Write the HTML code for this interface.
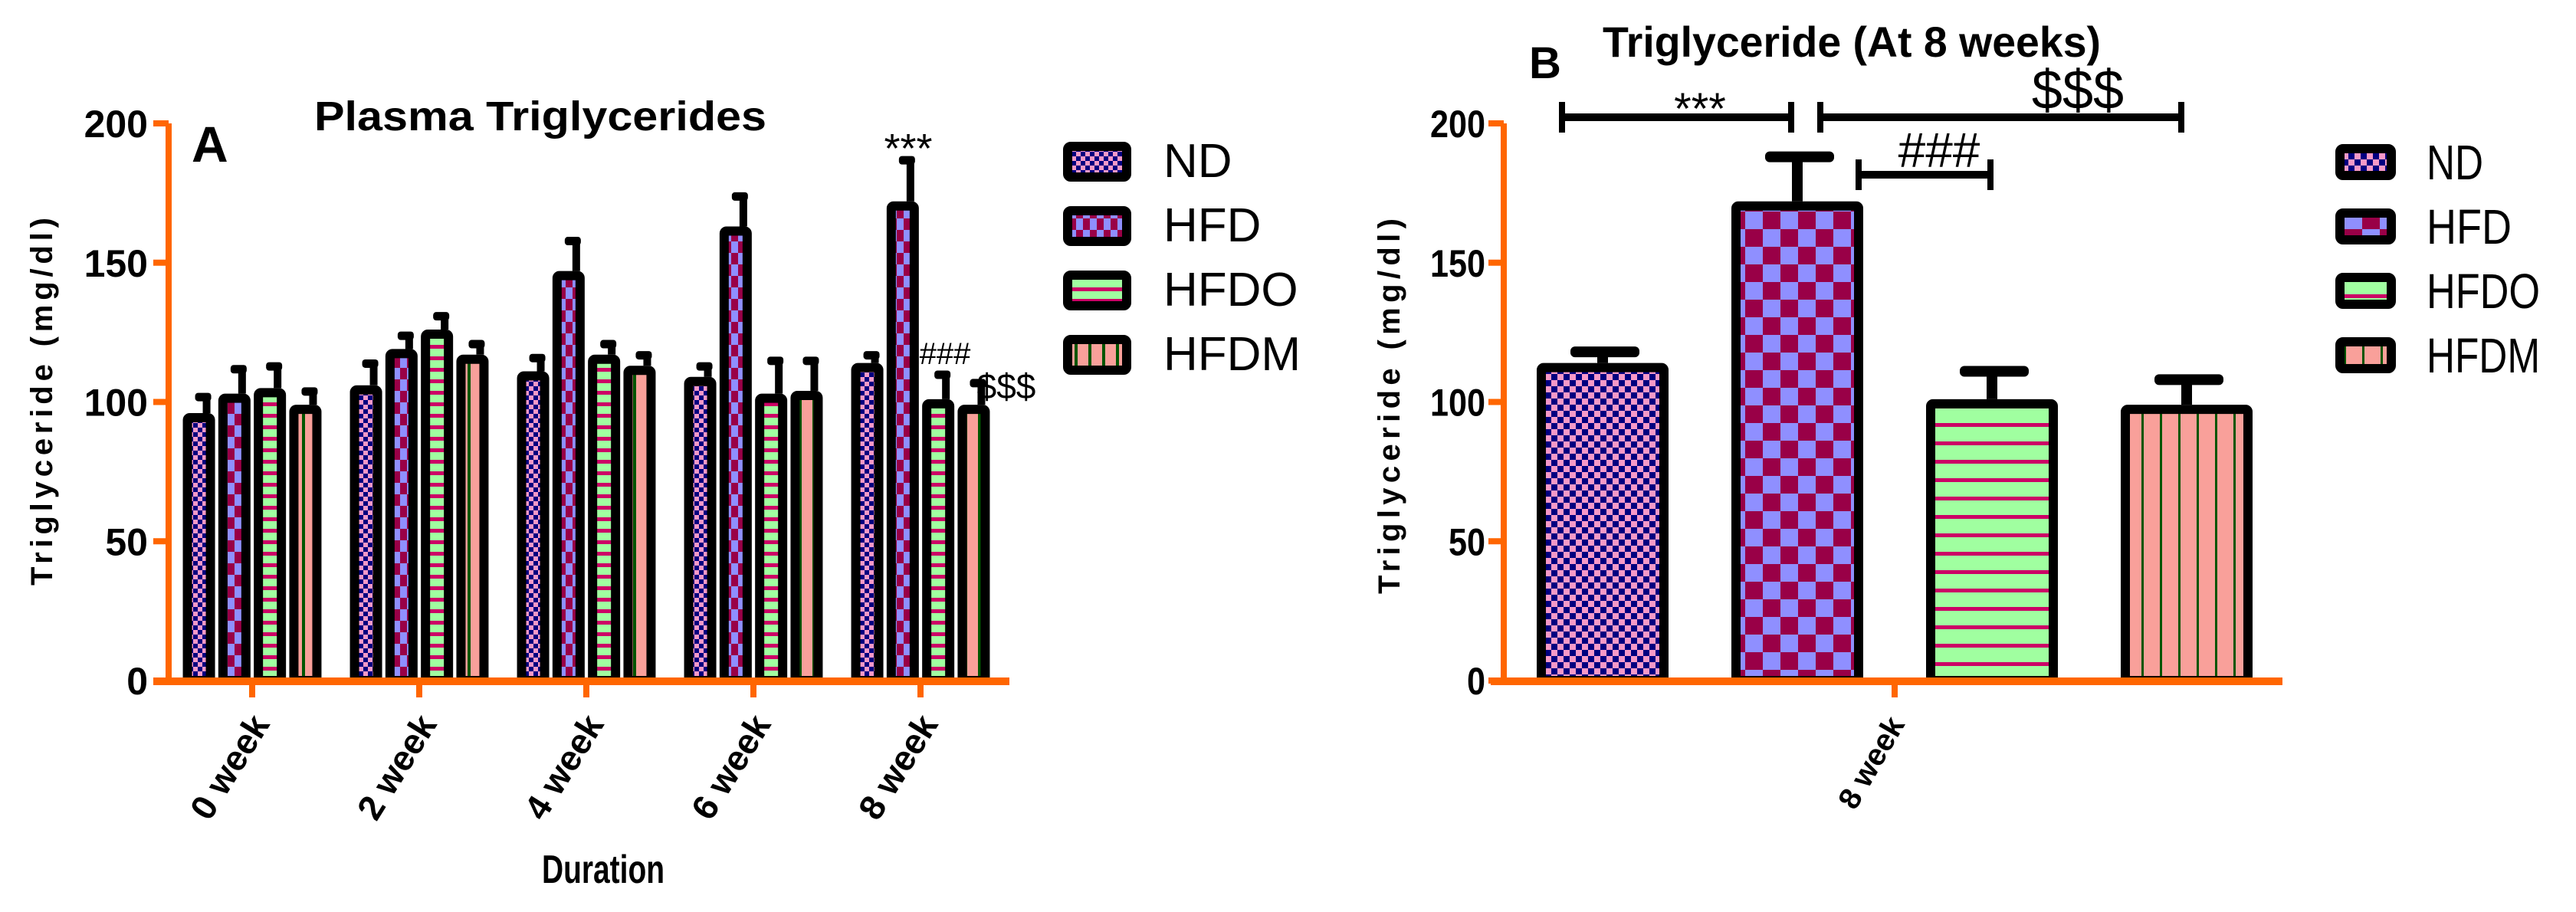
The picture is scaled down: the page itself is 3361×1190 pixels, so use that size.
<!DOCTYPE html>
<html><head><meta charset="utf-8"><style>
html,body{margin:0;padding:0;background:#fff;}
svg{display:block;}
text{font-family:"Liberation Sans Narrow","Liberation Sans",sans-serif;}
</style></head><body>
<svg id="c" width="3361" height="1190" viewBox="0 0 3361 1190" xmlns="http://www.w3.org/2000/svg">
<defs>
<pattern id="pND" width="12" height="12" patternUnits="userSpaceOnUse"><rect width="12" height="12" fill="#f799c8"/><rect width="6" height="6" fill="#000080"/><rect x="6" y="6" width="6" height="6" fill="#000080"/></pattern>
<pattern id="pHFD" width="18" height="30" patternUnits="userSpaceOnUse"><rect width="18" height="30" fill="#8f8fff"/><rect width="9" height="15" fill="#990047"/><rect x="9" y="15" width="9" height="15" fill="#990047"/></pattern>
<pattern id="pHFDO" width="20" height="15" patternUnits="userSpaceOnUse"><rect width="20" height="15" fill="#a0ffa0"/><rect y="0" width="20" height="5" fill="#cc0066"/></pattern>
<pattern id="pHFDM" width="18" height="20" patternUnits="userSpaceOnUse" x="9"><rect width="18" height="20" fill="#f9a09a"/><rect x="7" width="4" height="20" fill="#005500"/></pattern>
<pattern id="bND" width="16" height="16" patternUnits="userSpaceOnUse"><rect width="16" height="16" fill="#f799c8"/><rect width="8" height="8" fill="#000080"/><rect x="8" y="8" width="8" height="8" fill="#000080"/></pattern>
<pattern id="bHFD" width="46" height="46" patternUnits="userSpaceOnUse"><rect width="46" height="46" fill="#8f8fff"/><rect width="23" height="23" fill="#990047"/><rect x="23" y="23" width="23" height="23" fill="#990047"/></pattern>
<pattern id="bHFDO" width="20" height="24" patternUnits="userSpaceOnUse"><rect width="20" height="24" fill="#a0ffa0"/><rect width="20" height="5" fill="#cc0066"/></pattern>
<pattern id="bHFDM" width="24" height="20" patternUnits="userSpaceOnUse"><rect width="24" height="20" fill="#f9a09a"/><rect x="10" width="3" height="20" fill="#005500"/></pattern>
</defs>
<g id="A"></g>
<g id="B"></g>
</svg>
<script>
const categories = ["0 week","2 week","4 week","6 week","8 week"];
const seriesNames = ["ND","HFD","HFDO","HFDM"];
const ndValues   = [96,106,111,109,114];
const hfdValues  = [103,119,147,163,172];
const hfdoValues = [105,126,117,103,101];
const hfdmValues = [99,117,113,104,99];
const ndErr   = [7,9,6,5,4];
const hfdErr  = [10,6,12,12,16];
const hfdoErr = [9,6,5,13,10];
const hfdmErr = [6,5,5,12,9];
const yTicks = [0,50,100,150,200];
const bCategory = ["8 week"];
const bValues = [114,172,101,99];
const bErr = [4,16,10,9];

const NS="http://www.w3.org/2000/svg";
function el(p,t,a,txt){const e=document.createElementNS(NS,t);for(const k in a)e.setAttribute(k,a[k]);if(txt!==undefined)e.textContent=txt;p.appendChild(e);return e;}
const y0=888, pxPer=(888-161)/200;
const yS=v=>y0-v*pxPer;
const OR="#ff6600";
const A=document.getElementById('A'), B=document.getElementById('B');
const series=[ndValues,hfdValues,hfdoValues,hfdmValues];
const errs=[ndErr,hfdErr,hfdoErr,hfdmErr];
const pA=["pND","pHFD","pHFDO","pHFDM"], pB=["bND","bHFD","bHFDO","bHFDM"];

// ---- Panel A ----
const xA=i=>329+i*218;
let t;
t=el(A,'text',{x:705,y:170,'font-size':54,'font-weight':'bold','text-anchor':'middle',textLength:590,lengthAdjust:'spacingAndGlyphs'},'Plasma Triglycerides');

t=el(A,'text',{x:250,y:211,'font-size':66,'font-weight':'bold'},'A');

t=el(A,'text',{x:0,y:0,'font-size':40,'font-weight':'bold','text-anchor':'middle',transform:'translate(68,524) rotate(-90)',textLength:480,lengthAdjust:'spacing','font-family':'Liberation Sans'},'Triglyceride (mg/dl)');

for(let s=0;s<4;s++){for(let g=0;g<5;g++){
  const cx=xA(g)+(s-1.5)*46.3; const v=series[s][g], e=errs[s][g];
  const top=yS(v), et=yS(v+e);
  let r=el(A,'rect',{x:cx+5,y:et,width:10,height:top-et,fill:'#000'});
  
  r=el(A,'rect',{x:cx-5,y:et-1,width:21,height:11,rx:4,fill:'#000'});
  
  r=el(A,'rect',{x:cx-21+6,y:top+6,width:42-12,height:y0-top-6,fill:'url(#'+pA[s]+')',stroke:'#000','stroke-width':12,rx:3});
  
}}
let ax=el(A,'rect',{x:216,y:161,width:8,height:733,fill:OR});
ax=el(A,'rect',{x:200,y:884,width:1117,height:10,fill:OR});
yTicks.forEach(v=>{el(A,'rect',{x:200,y:yS(v)-4,width:20,height:8,fill:OR});
  t=el(A,'text',{x:193,y:yS(v)+18,'font-size':50,'font-weight':'bold','text-anchor':'end'},v);
  });
categories.forEach((c,i)=>{el(A,'rect',{x:xA(i)-4,y:888,width:8,height:22,fill:OR});
  t=el(A,'text',{x:0,y:0,'font-size':46,'font-weight':'bold','text-anchor':'end','font-family':'Liberation Sans',transform:`translate(${xA(i)+24},${945}) rotate(-58)`},c);
  });
t=el(A,'text',{x:787,y:1152,'font-size':52,'font-weight':'bold','text-anchor':'middle',textLength:160,lengthAdjust:'spacingAndGlyphs'},'Duration');

t=el(A,'text',{x:1185,y:212,'font-size':54,'text-anchor':'middle','font-family':'Liberation Sans'},'***');

t=el(A,'text',{x:1233,y:475,'font-size':40,'text-anchor':'middle'},'###');

t=el(A,'text',{x:1313,y:520,'font-size':46,'text-anchor':'middle'},'$$$');

seriesNames.forEach((n,i)=>{const yy=185+i*84;
  let r=el(A,'rect',{x:1393,y:yy+6,width:77,height:40,rx:4,fill:'url(#'+pA[i]+')',stroke:'#000','stroke-width':12});
  
  t=el(A,'text',{x:1518,y:yy+46,'font-size':62,'font-family':'Liberation Sans'},n);
  });

// ---- Panel B ----
const tickB=2472;
const xB=i=>tickB+(i-1.5)*254;
t=el(B,'text',{x:2416,y:74,'font-size':56,'font-weight':'bold','text-anchor':'middle',textLength:650,lengthAdjust:'spacingAndGlyphs'},'Triglyceride (At 8 weeks)');

t=el(B,'text',{x:1995,y:102,'font-size':58,'font-weight':'bold'},'B');

t=el(B,'text',{x:0,y:0,'font-size':40,'font-weight':'bold','text-anchor':'middle',transform:'translate(1826,530) rotate(-90)',textLength:490,lengthAdjust:'spacing','font-family':'Liberation Sans'},'Triglyceride (mg/dl)');

bValues.forEach((v,i)=>{const cx=xB(i), top=yS(v), et=yS(v+bErr[i]);
  let r=el(B,'rect',{x:cx-7,y:et,width:14,height:top-et,fill:'#000'});
  
  r=el(B,'rect',{x:cx-42,y:et-7,width:90,height:14,rx:6,fill:'#000'});
  
  r=el(B,'rect',{x:cx-86+6,y:top+6,width:172-12,height:y0-top-6,fill:'url(#'+pB[i]+')',stroke:'#000','stroke-width':12,rx:3});
  });
ax=el(B,'rect',{x:1958,y:161,width:8,height:733,fill:OR});
ax=el(B,'rect',{x:1945,y:884,width:1033,height:10,fill:OR});
yTicks.forEach(v=>{el(B,'rect',{x:1942,y:yS(v)-4,width:20,height:8,fill:OR});
  t=el(B,'text',{x:1938,y:yS(v)+18,'font-size':50,'font-weight':'bold','text-anchor':'end',textLength:String(v).length*24,lengthAdjust:'spacingAndGlyphs'},v);
  });
bCategory.forEach(c=>{el(B,'rect',{x:tickB-4,y:888,width:8,height:22,fill:OR});
  t=el(B,'text',{x:0,y:0,'font-size':40,'font-weight':'bold','text-anchor':'end','font-family':'Liberation Sans',transform:`translate(${tickB+14},${945}) rotate(-60)`},c);
  });
// brackets
function bracket(x1,x2,y,name){const g=el(B,'g',{});
  el(g,'rect',{x:x1,y:y-5,width:x2-x1,height:10,fill:'#000'});
  el(g,'rect',{x:x1-3,y:y-20,width:8,height:40,fill:'#000'});
  el(g,'rect',{x:x2-5,y:y-20,width:8,height:40,fill:'#000'});}
bracket(2037,2338,153,'bracket-nd-hfd');
bracket(2374,2847,153,'bracket-hfd-hfdm');
bracket(2424,2598,228,'bracket-hfd-hfdo');
t=el(B,'text',{x:2218,y:162,'font-size':58,'text-anchor':'middle','font-family':'Liberation Sans'},'***');

t=el(B,'text',{x:2711,y:142,'font-size':72,'text-anchor':'middle'},'$$$');

t=el(B,'text',{x:2530,y:218,'font-size':64,'text-anchor':'middle'},'###');

seriesNames.forEach((n,i)=>{const yy=188+i*84;
  let r=el(B,'rect',{x:3053,y:yy+6,width:67,height:35,rx:4,fill:'url(#'+pB[i]+')',stroke:'#000','stroke-width':12});
  
  t=el(B,'text',{x:3166,y:yy+46,'font-size':64,textLength:n.length*37,lengthAdjust:'spacingAndGlyphs'},n);
  });
</script>
</body></html>
